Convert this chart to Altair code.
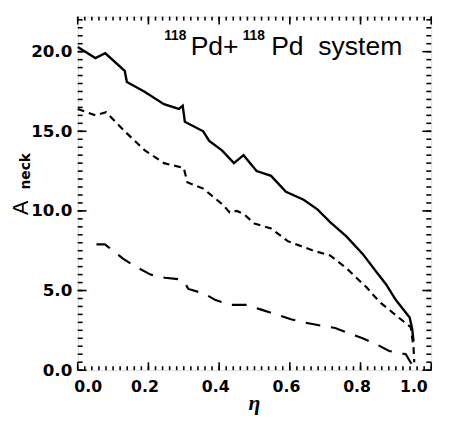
import altair as alt
import pandas as pd
import numpy as np

# ---- data ----
eta_solid = [0.0, 0.05, 0.078, 0.133, 0.139, 0.188, 0.244, 0.286, 0.297, 0.303, 0.355, 0.372,
             0.408, 0.442, 0.469, 0.506, 0.547, 0.589, 0.639, 0.678, 0.714, 0.76, 0.806, 0.844,
             0.872, 0.9, 0.939, 0.946, 0.95]
aneck_solid = [20.3, 19.6, 19.9, 18.8, 18.1, 17.5, 16.7, 16.4, 16.6, 15.6, 15.0, 14.4,
               13.8, 13.0, 13.5, 12.5, 12.2, 11.2, 10.7, 10.1, 9.3, 8.4, 7.3, 6.2,
               5.4, 4.4, 3.3, 2.6, 1.8]

eta_dash = [0.0, 0.05, 0.08, 0.133, 0.19, 0.244, 0.3, 0.31, 0.355, 0.41, 0.43, 0.45, 0.47,
            0.5, 0.547, 0.594, 0.667, 0.714, 0.76, 0.817, 0.853, 0.908, 0.942, 0.95, 0.952]
aneck_dash = [16.4, 16.0, 16.2, 15.0, 13.8, 13.0, 12.7, 11.8, 11.4, 10.4, 9.9, 10.0, 9.8,
              9.2, 8.9, 8.1, 7.5, 7.2, 6.4, 5.2, 4.3, 3.3, 2.7, 1.4, 0.5]

eta_long = [0.053, 0.077, 0.094, 0.128, 0.164, 0.206, 0.247, 0.289, 0.3, 0.313, 0.358, 0.39,
            0.431, 0.478, 0.519, 0.561, 0.603, 0.639, 0.686, 0.728, 0.769, 0.806, 0.847,
            0.881, 0.928, 0.944]
aneck_long = [7.9, 7.9, 7.6, 7.0, 6.5, 6.0, 5.8, 5.7, 5.6, 5.1, 4.8, 4.4,
              4.1, 4.1, 3.8, 3.5, 3.2, 3.0, 2.8, 2.65, 2.3, 2.0, 1.6,
              1.2, 1.0, 0.4]

x_labels = [0.0, 0.2, 0.4, 0.6, 0.8, 1.0]
y_labels = [0.0, 5.0, 10.0, 15.0, 20.0]
x_minor = [round(v, 2) for v in np.arange(0, 1.0001, 0.02)]
y_minor = [round(v, 1) for v in np.arange(0, 22.01, 0.5)]
x_major = x_labels
y_major = y_labels

title_sup = "118"
title_el = "Pd+"
title_el2 = "Pd"
title_sys = "system"
ytitle_main = "A"
ytitle_sub = "neck"
xtitle = "η"

# ---- chart ----
W = H = 360
xs = alt.Scale(domain=[0, 1], nice=False)
ys = alt.Scale(domain=[0, 22.2], nice=False)
LBL = "DejaVu Sans"
xaxis = alt.Axis(values=x_labels, format=".1f", ticks=False, tickSize=0, domain=False, grid=False,
                 labelFont=LBL, labelFontWeight="bold", labelFontSize=16, labelPadding=9,
                 labelOffset=-4, labelColor="black", title=None)
yaxis = alt.Axis(values=y_labels, format=".1f", ticks=False, tickSize=0, domain=False, grid=False,
                 labelFont=LBL, labelFontWeight="bold", labelFontSize=17, labelPadding=6,
                 labelColor="black", title=None)


def line(x, y, width, dash=None):
    df = pd.DataFrame({"eta": x, "aneck": y})
    kw = dict(color="black", strokeWidth=width)
    if dash is not None:
        kw["strokeDash"] = dash
    return alt.Chart(df).mark_line(**kw).encode(
        x=alt.X("eta:Q", scale=xs, axis=xaxis),
        y=alt.Y("aneck:Q", scale=ys, axis=yaxis),
    )


def xticks(vals, top, length):
    df = pd.DataFrame({"eta": vals})
    if top:
        y1, y2 = 0, length
    else:
        y1, y2 = H, H - length
    return alt.Chart(df).mark_rule(color="black", strokeWidth=1.6).encode(
        x=alt.X("eta:Q", scale=xs, axis=xaxis), y=alt.value(y1), y2=alt.value(y2))


def yticks(vals, right, length):
    df = pd.DataFrame({"aneck": vals})
    if right:
        x1, x2 = W, W - length
    else:
        x1, x2 = 0, length
    return alt.Chart(df).mark_rule(color="black", strokeWidth=1.6).encode(
        y=alt.Y("aneck:Q", scale=ys, axis=yaxis), x=alt.value(x1), x2=alt.value(x2))


def label(txt, x, y, size, font="Liberation Sans", weight="normal", angle=0, align="left",
          style="normal"):
    df = pd.DataFrame({"t": [txt]})
    kw = dict(font=font, fontSize=size, fontWeight=weight, align=align, baseline="alphabetic",
              color="black", fontStyle=style, angle=angle)
    return alt.Chart(df).mark_text(**kw).encode(
        text="t:N", x=alt.value(x), y=alt.value(y), angle=alt.value(angle))


layers = [
    line(eta_solid, aneck_solid, 2.4),
    line(eta_dash, aneck_dash, 2.2, [7, 5]),
    line(eta_long, aneck_long, 2.2, [15, 11]),
    xticks(x_minor, False, 4), xticks(x_major, False, 8),
    xticks(x_minor, True, 4), xticks(x_major, True, 8),
    yticks(y_minor, False, 5), yticks(y_major, False, 9),
    yticks(y_minor, True, 5), yticks(y_major, True, 9),
    label(title_sup, 88, 24, 14, weight="bold"),
    label(title_el, 115, 39, 27),
    label(title_sup, 168, 24, 14, weight="bold"),
    label(title_el2, 197, 39, 27),
    label(title_sys, 245, 39, 27),
    label(ytitle_main, -51, 202, 22, angle=270),
    label(ytitle_sub, -49, 176, 14, font="DejaVu Sans", weight="bold", angle=270),
    label(xtitle, 180, 401, 22, font="Liberation Serif", weight="bold", align="center",
          style="italic"),
]

chart = alt.layer(*layers).properties(
    width=W, height=H,
    autosize=alt.AutoSizeParams(type="none"),
    padding={"left": 71, "top": 5, "right": 13, "bottom": 48},
).configure_view(stroke="black", strokeWidth=2.2).configure(background="white")

chart.save("out.html", embed_options={"renderer": "svg", "actions": False})
